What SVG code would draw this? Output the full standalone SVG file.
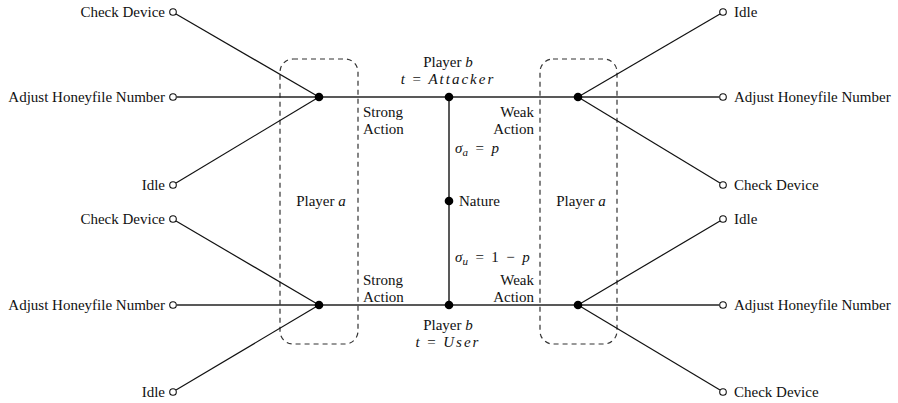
<svg xmlns="http://www.w3.org/2000/svg" width="898" height="403" viewBox="0 0 898 403">
  <style>
    text { font-family: "Liberation Serif", "Times New Roman", serif; font-size: 15px; fill: #111; }
    .end { text-anchor: end; }
    .mid { text-anchor: middle; }
    .it { font-style: italic; }
    .edge { stroke: #111; stroke-width: 1.2; fill: none; }
    .main { stroke: #222; stroke-width: 1.5; fill: none; }
    .info { stroke: #333; stroke-width: 1.2; stroke-dasharray: 5 4; fill: none; }
    .leaf { fill: #fff; stroke: #111; stroke-width: 1.1; }
    .dec { fill: #000; }
  </style>

  <!-- information sets of player a -->
  <g id="infoset-left">
    <rect class="info" x="280" y="59" width="78" height="285" rx="13"/>
    <text class="mid" x="321" y="206">Player <tspan class="it">a</tspan></text>
  </g>
  <g id="infoset-right">
    <rect class="info" x="540" y="59" width="77" height="285" rx="13"/>
    <text class="mid" x="581" y="206">Player <tspan class="it">a</tspan></text>
  </g>

  <!-- edges of the game tree -->
  <g id="connectors">
    <line class="main" x1="319" y1="97" x2="578" y2="97"/>
    <line class="main" x1="319" y1="305" x2="578" y2="305"/>
    <line class="main" x1="449" y1="97" x2="449" y2="305"/>
    <!-- top-left actions -->
    <line class="edge" x1="176" y1="14" x2="319" y2="97"/>
    <line class="main" x1="177" y1="97" x2="319" y2="97"/>
    <line class="edge" x1="176" y1="183" x2="319" y2="97"/>
    <!-- bottom-left actions -->
    <line class="edge" x1="176" y1="221" x2="319" y2="305"/>
    <line class="main" x1="177" y1="305" x2="319" y2="305"/>
    <line class="edge" x1="176" y1="390" x2="319" y2="305"/>
    <!-- top-right actions -->
    <line class="edge" x1="578" y1="97" x2="720" y2="14"/>
    <line class="main" x1="578" y1="97" x2="719" y2="97"/>
    <line class="edge" x1="578" y1="97" x2="720" y2="183"/>
    <!-- bottom-right actions -->
    <line class="edge" x1="578" y1="305" x2="720" y2="221"/>
    <line class="main" x1="578" y1="305" x2="719" y2="305"/>
    <line class="edge" x1="578" y1="305" x2="720" y2="390"/>
  </g>

  <!-- edge labels -->
  <g id="edge-labels">
    <text x="363" y="117">Strong</text>
    <text x="363" y="134">Action</text>
    <text class="end" x="534" y="117">Weak</text>
    <text class="end" x="534" y="134">Action</text>
    <text x="363" y="285">Strong</text>
    <text x="363" y="302">Action</text>
    <text class="end" x="534" y="285">Weak</text>
    <text class="end" x="534" y="302">Action</text>
    <text class="it" x="455" y="153">σ<tspan font-size="11" dy="3">a</tspan><tspan font-style="normal" dy="-3" xml:space="preserve">  =  </tspan>p</text>
    <text class="it" x="455" y="262">σ<tspan font-size="11" dy="3">u</tspan><tspan font-style="normal" dy="-3" xml:space="preserve">  =  1  −  </tspan>p</text>
  </g>

  <!-- decision nodes -->
  <g id="nature">
    <circle class="dec" cx="449" cy="201" r="4.3"/>
    <text x="459" y="206">Nature</text>
  </g>
  <g id="player-b-attacker">
    <circle class="dec" cx="449" cy="97" r="4.3"/>
    <text class="mid" x="448" y="67">Player <tspan class="it">b</tspan></text>
    <text class="mid" x="448" y="84" xml:space="preserve"><tspan class="it">t</tspan>  =  <tspan class="it" letter-spacing="2">Attacker</tspan></text>
  </g>
  <g id="player-b-user">
    <circle class="dec" cx="449" cy="305" r="4.3"/>
    <text class="mid" x="448" y="330">Player <tspan class="it">b</tspan></text>
    <text class="mid" x="448" y="347" xml:space="preserve"><tspan class="it">t</tspan>  =  <tspan class="it" letter-spacing="2">User</tspan></text>
  </g>
  <g id="player-a-strong-attacker"><circle class="dec" cx="319" cy="97" r="4.3"/></g>
  <g id="player-a-strong-user"><circle class="dec" cx="319" cy="305" r="4.3"/></g>
  <g id="player-a-weak-attacker"><circle class="dec" cx="578" cy="97" r="4.3"/></g>
  <g id="player-a-weak-user"><circle class="dec" cx="578" cy="305" r="4.3"/></g>

  <!-- terminal nodes, left side -->
  <g id="leaf-l1"><circle class="leaf" cx="173" cy="12" r="3.3"/><text class="end" x="165" y="17">Check Device</text></g>
  <g id="leaf-l2"><circle class="leaf" cx="173" cy="97" r="3.3"/><text class="end" x="165" y="102">Adjust Honeyfile Number</text></g>
  <g id="leaf-l3"><circle class="leaf" cx="173" cy="185" r="3.3"/><text class="end" x="165" y="190">Idle</text></g>
  <g id="leaf-l4"><circle class="leaf" cx="173" cy="219" r="3.3"/><text class="end" x="165" y="224">Check Device</text></g>
  <g id="leaf-l5"><circle class="leaf" cx="173" cy="305" r="3.3"/><text class="end" x="165" y="310">Adjust Honeyfile Number</text></g>
  <g id="leaf-l6"><circle class="leaf" cx="173" cy="392" r="3.3"/><text class="end" x="165" y="397">Idle</text></g>

  <!-- terminal nodes, right side -->
  <g id="leaf-r1"><circle class="leaf" cx="723" cy="12" r="3.3"/><text x="734" y="17">Idle</text></g>
  <g id="leaf-r2"><circle class="leaf" cx="723" cy="97" r="3.3"/><text x="734" y="102">Adjust Honeyfile Number</text></g>
  <g id="leaf-r3"><circle class="leaf" cx="723" cy="185" r="3.3"/><text x="734" y="190">Check Device</text></g>
  <g id="leaf-r4"><circle class="leaf" cx="723" cy="219" r="3.3"/><text x="734" y="224">Idle</text></g>
  <g id="leaf-r5"><circle class="leaf" cx="723" cy="305" r="3.3"/><text x="734" y="310">Adjust Honeyfile Number</text></g>
  <g id="leaf-r6"><circle class="leaf" cx="723" cy="392" r="3.3"/><text x="734" y="397">Check Device</text></g>
</svg>
